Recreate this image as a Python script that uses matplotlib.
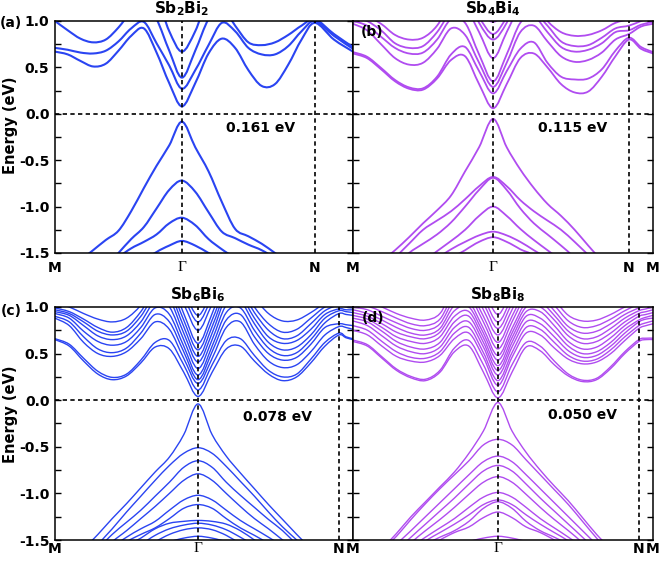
import numpy as np
import matplotlib
matplotlib.use("Agg")
import matplotlib.pyplot as plt
from matplotlib.ticker import MultipleLocator
from matplotlib.path import Path
from matplotlib.patches import PathPatch

plt.rcParams["font.family"] = "DejaVu Sans"
plt.rcParams["font.weight"] = "bold"
plt.rcParams["axes.unicode_minus"] = False

# off-scale placeholders (band runs outside the -1.5..1.0 window)
hi = 1.3
lo = -1.9

# positions of Gamma and N along each path (fraction of panel width)
kpath_a = (0.426, 0.872)
kpath_b = (0.467, 0.920)
kpath_c = (0.480, 0.953)
kpath_d = (0.483, 0.953)

# energies (eV) sampled on 10 steps M->G, 10 steps G->N, 2 steps N->M
a_cond = [
    [0.67, 0.64, 0.57, 0.51, 0.54, 0.68, 0.84, 0.92, 0.66, 0.33, 0.08, 0.33, 0.65, 0.81, 0.71, 0.47, 0.30, 0.32, 0.53, 0.80, 0.98, 0.80, 0.67],
    [0.71, 0.69, 0.66, 0.65, 0.68, 0.78, 0.92, 0.99, 0.76, 0.52, 0.27, 0.47, 0.74, 0.98, 0.89, 0.71, 0.64, 0.64, 0.73, 0.89, 1.00, 0.84, 0.70],
    [1.00, 0.90, 0.81, 0.77, 0.80, 0.93, 1.10, 1.20, 1.02, 0.68, 0.39, 0.68, 1.02, 1.15, 0.95, 0.77, 0.74, 0.77, 0.85, 0.95, 1.02, 0.86, 0.72],
    [hi, hi, hi, hi, hi, hi, hi, hi, 1.25, 0.89, 0.67, 0.89, 1.25, hi, hi, hi, hi, hi, hi, hi, hi, hi, hi],
]
a_val = [
    [-1.80, -1.70, -1.58, -1.47, -1.36, -1.26, -1.05, -0.80, -0.56, -0.34, -0.085, -0.36, -0.62, -0.95, -1.24, -1.32, -1.40, -1.50, -1.60, -1.70, -1.80, -1.80, -1.80],
    [lo, lo, lo, -1.80, -1.65, -1.50, -1.35, -1.22, -1.02, -0.82, -0.72, -0.84, -1.06, -1.27, -1.34, -1.41, -1.47, -1.56, -1.70, -1.80, lo, lo, lo],
    [lo, lo, lo, lo, -1.70, -1.55, -1.45, -1.38, -1.30, -1.18, -1.12, -1.20, -1.35, -1.46, -1.56, -1.70, lo, lo, lo, lo, lo, lo, lo],
    [lo, lo, lo, lo, lo, lo, lo, -1.60, -1.49, -1.42, -1.37, -1.42, -1.50, -1.58, lo, lo, lo, lo, lo, lo, lo, lo, lo],
]

b_cond = [
    [0.65, 0.60, 0.48, 0.35, 0.27, 0.26, 0.38, 0.58, 0.62, 0.32, 0.06, 0.32, 0.60, 0.65, 0.50, 0.32, 0.23, 0.24, 0.40, 0.62, 0.80, 0.70, 0.65],
    [0.665, 0.615, 0.495, 0.365, 0.285, 0.275, 0.40, 0.64, 0.72, 0.46, 0.22, 0.46, 0.70, 0.77, 0.55, 0.40, 0.37, 0.38, 0.48, 0.68, 0.82, 0.72, 0.665],
    [0.97, 0.90, 0.75, 0.60, 0.53, 0.55, 0.70, 0.92, 0.85, 0.55, 0.29, 0.55, 0.88, 0.95, 0.78, 0.62, 0.56, 0.58, 0.66, 0.80, 0.86, 0.94, 0.97],
    [1.00, 0.95, 0.83, 0.71, 0.65, 0.66, 0.80, 1.02, 0.98, 0.64, 0.35, 0.64, 0.98, 1.05, 0.88, 0.72, 0.67, 0.69, 0.76, 0.88, 0.90, 0.96, 0.99],
    [1.05, 1.00, 0.90, 0.76, 0.71, 0.73, 0.88, 1.10, 1.15, 0.88, 0.60, 0.88, 1.15, 1.10, 0.95, 0.78, 0.73, 0.74, 0.82, 0.92, 0.95, 1.00, 1.05],
    [1.10, 1.05, 0.97, 0.85, 0.80, 0.82, 0.95, 1.20, 1.30, 0.98, 0.80, 0.98, 1.30, 1.20, 1.00, 0.88, 0.84, 0.85, 0.90, 0.98, 1.02, 1.05, 1.10],
    [hi, hi, hi, hi, hi, hi, hi, hi, hi, 1.04, 0.86, 1.04, hi, hi, hi, hi, hi, hi, hi, hi, hi, hi, hi],
    [hi, hi, hi, hi, hi, hi, hi, hi, hi, 1.12, 0.99, 1.12, hi, hi, hi, hi, hi, hi, hi, hi, hi, hi, hi],
]
b_val = [
    [lo, -1.80, -1.60, -1.47, -1.33, -1.18, -1.04, -0.88, -0.62, -0.36, -0.055, -0.36, -0.60, -0.80, -0.97, -1.10, -1.25, -1.42, -1.58, -1.70, -1.80, lo, lo],
    [lo, -1.80, -1.70, -1.55, -1.40, -1.25, -1.15, -1.05, -0.92, -0.78, -0.68, -0.78, -0.93, -1.05, -1.15, -1.25, -1.38, -1.52, -1.65, -1.80, lo, lo, lo],
    [lo, lo, -1.80, -1.65, -1.50, -1.40, -1.30, -1.17, -1.00, -0.82, -0.69, -0.82, -1.02, -1.18, -1.30, -1.42, -1.55, -1.70, -1.80, lo, lo, lo, lo],
    [lo, lo, lo, lo, -1.75, -1.60, -1.48, -1.37, -1.25, -1.10, -1.00, -1.10, -1.24, -1.36, -1.47, -1.58, -1.70, lo, lo, lo, lo, lo, lo],
    [lo, lo, lo, lo, lo, -1.68, -1.56, -1.46, -1.38, -1.31, -1.27, -1.31, -1.38, -1.47, -1.56, -1.66, lo, lo, lo, lo, lo, lo, lo],
    [lo, lo, lo, lo, lo, lo, lo, -1.58, -1.47, -1.38, -1.33, -1.38, -1.46, -1.55, lo, lo, lo, lo, lo, lo, lo, lo, lo],
]

c_cond = [
    [0.65, 0.58, 0.42, 0.28, 0.22, 0.26, 0.40, 0.57, 0.55, 0.30, 0.04, 0.30, 0.55, 0.58, 0.42, 0.28, 0.21, 0.25, 0.40, 0.58, 0.70, 0.67, 0.65],
    [0.66, 0.60, 0.45, 0.31, 0.245, 0.28, 0.43, 0.62, 0.64, 0.38, 0.11, 0.38, 0.64, 0.66, 0.48, 0.32, 0.25, 0.28, 0.44, 0.62, 0.72, 0.68, 0.66],
    [0.88, 0.80, 0.62, 0.50, 0.47, 0.52, 0.66, 0.84, 0.76, 0.45, 0.18, 0.45, 0.78, 0.84, 0.60, 0.42, 0.35, 0.38, 0.52, 0.70, 0.79, 0.78, 0.76],
    [0.90, 0.84, 0.68, 0.55, 0.51, 0.56, 0.72, 0.92, 0.84, 0.52, 0.22, 0.52, 0.86, 0.92, 0.68, 0.50, 0.43, 0.46, 0.60, 0.78, 0.82, 0.81, 0.80],
    [0.93, 0.88, 0.74, 0.63, 0.59, 0.63, 0.78, 0.99, 0.92, 0.58, 0.27, 0.58, 0.94, 0.99, 0.75, 0.56, 0.48, 0.51, 0.65, 0.83, 0.93, 0.92, 0.91],
    [0.95, 0.91, 0.80, 0.69, 0.65, 0.69, 0.84, 1.06, 1.00, 0.65, 0.34, 0.65, 1.02, 1.06, 0.82, 0.62, 0.54, 0.57, 0.70, 0.88, 0.96, 0.95, 0.94],
    [0.97, 0.93, 0.84, 0.74, 0.70, 0.74, 0.90, 1.12, 1.08, 0.72, 0.41, 0.72, 1.10, 1.12, 0.88, 0.68, 0.61, 0.64, 0.76, 0.92, 0.98, 0.97, 0.97],
    [0.99, 0.95, 0.87, 0.78, 0.73, 0.78, 0.95, 1.18, 1.15, 0.79, 0.47, 0.79, 1.16, 1.18, 0.94, 0.75, 0.66, 0.69, 0.82, 0.96, 1.02, 1.00, 0.99],
    [1.05, 1.00, 0.93, 0.87, 0.84, 0.88, 1.02, 1.25, 1.22, 0.86, 0.54, 0.86, 1.22, 1.25, 1.00, 0.82, 0.73, 0.76, 0.88, 1.00, 1.05, 1.05, 1.05],
    [hi, hi, hi, hi, hi, hi, hi, hi, hi, 0.93, 0.61, 0.93, hi, hi, 1.10, 0.93, 0.85, 0.86, 0.94, 1.04, 1.10, 1.10, 1.10],
    [hi, hi, hi, hi, hi, hi, hi, hi, hi, 1.03, 0.75, 1.03, hi, hi, hi, hi, hi, hi, hi, hi, hi, hi, hi],
    [hi, hi, hi, hi, hi, hi, hi, hi, hi, 1.10, 0.84, 1.10, hi, hi, hi, hi, hi, hi, hi, hi, hi, hi, hi],
    [hi, hi, hi, hi, hi, hi, hi, hi, hi, 1.16, 0.91, 1.16, hi, hi, hi, hi, hi, hi, hi, hi, hi, hi, hi],
]
c_val = [
    [lo, -1.80, -1.60, -1.44, -1.27, -1.11, -0.94, -0.77, -0.61, -0.37, -0.04, -0.37, -0.60, -0.78, -0.95, -1.12, -1.28, -1.44, -1.60, -1.80, lo, lo, lo],
    [lo, lo, -1.75, -1.55, -1.38, -1.20, -1.03, -0.86, -0.70, -0.57, -0.51, -0.57, -0.71, -0.87, -1.03, -1.20, -1.36, -1.50, -1.65, -1.80, lo, lo, lo],
    [lo, lo, -1.80, -1.60, -1.44, -1.31, -1.18, -1.03, -0.88, -0.72, -0.65, -0.72, -0.88, -1.02, -1.15, -1.28, -1.40, -1.55, -1.70, lo, lo, lo, lo],
    [lo, lo, lo, -1.68, -1.52, -1.40, -1.27, -1.14, -1.00, -0.86, -0.79, -0.86, -1.00, -1.14, -1.27, -1.38, -1.50, -1.62, -1.80, lo, lo, lo, lo],
    [lo, lo, lo, -1.75, -1.58, -1.47, -1.38, -1.30, -1.18, -1.07, -1.02, -1.07, -1.18, -1.29, -1.38, -1.47, -1.57, -1.70, lo, lo, lo, lo, lo],
    [lo, lo, lo, lo, -1.64, -1.52, -1.44, -1.37, -1.27, -1.16, -1.12, -1.16, -1.27, -1.37, -1.45, -1.54, -1.65, lo, lo, lo, lo, lo, lo],
    [lo, lo, lo, lo, lo, -1.58, -1.48, -1.38, -1.32, -1.30, -1.29, -1.30, -1.33, -1.40, -1.50, -1.60, lo, lo, lo, lo, lo, lo, lo],
    [lo, lo, lo, lo, lo, -1.66, -1.55, -1.45, -1.38, -1.34, -1.32, -1.34, -1.39, -1.47, -1.56, -1.66, lo, lo, lo, lo, lo, lo, lo],
    [lo, lo, lo, lo, lo, lo, -1.62, -1.52, -1.44, -1.39, -1.37, -1.39, -1.45, -1.54, -1.63, lo, lo, lo, lo, lo, lo, lo, lo],
    [lo, lo, lo, lo, lo, lo, lo, -1.58, -1.52, -1.48, -1.46, -1.48, -1.52, -1.58, lo, lo, lo, lo, lo, lo, lo, lo, lo],
]

d_cond = [
    [0.63, 0.58, 0.45, 0.32, 0.24, 0.21, 0.30, 0.52, 0.58, 0.30, 0.025, 0.30, 0.57, 0.53, 0.38, 0.26, 0.20, 0.22, 0.34, 0.50, 0.63, 0.65, 0.65],
    [0.645, 0.595, 0.465, 0.335, 0.255, 0.225, 0.32, 0.56, 0.64, 0.38, 0.09, 0.38, 0.62, 0.58, 0.42, 0.28, 0.215, 0.235, 0.36, 0.52, 0.65, 0.665, 0.665],
    [0.75, 0.70, 0.58, 0.47, 0.42, 0.41, 0.48, 0.66, 0.72, 0.46, 0.16, 0.46, 0.72, 0.70, 0.56, 0.44, 0.39, 0.41, 0.50, 0.64, 0.77, 0.80, 0.82],
    [0.80, 0.75, 0.63, 0.52, 0.46, 0.45, 0.52, 0.72, 0.78, 0.51, 0.21, 0.51, 0.78, 0.76, 0.62, 0.48, 0.42, 0.44, 0.54, 0.68, 0.80, 0.83, 0.85],
    [0.85, 0.80, 0.69, 0.58, 0.52, 0.50, 0.57, 0.78, 0.84, 0.57, 0.27, 0.57, 0.84, 0.82, 0.68, 0.53, 0.46, 0.48, 0.58, 0.72, 0.84, 0.87, 0.88],
    [0.88, 0.84, 0.74, 0.63, 0.57, 0.55, 0.62, 0.84, 0.90, 0.62, 0.32, 0.62, 0.90, 0.88, 0.74, 0.58, 0.50, 0.52, 0.62, 0.76, 0.86, 0.89, 0.91],
    [0.91, 0.87, 0.78, 0.68, 0.63, 0.61, 0.68, 0.90, 0.95, 0.67, 0.37, 0.67, 0.95, 0.95, 0.80, 0.63, 0.55, 0.57, 0.67, 0.80, 0.90, 0.92, 0.94],
    [0.94, 0.90, 0.82, 0.73, 0.68, 0.66, 0.73, 0.96, 1.00, 0.72, 0.43, 0.72, 1.00, 1.00, 0.86, 0.69, 0.61, 0.63, 0.72, 0.84, 0.93, 0.95, 0.97],
    [0.97, 0.93, 0.86, 0.78, 0.72, 0.70, 0.77, 1.02, 1.05, 0.77, 0.48, 0.77, 1.05, 1.06, 0.91, 0.74, 0.66, 0.68, 0.77, 0.88, 0.96, 0.98, 1.00],
    [1.00, 0.97, 0.90, 0.83, 0.77, 0.75, 0.82, 1.08, 1.12, 0.84, 0.55, 0.84, 1.12, 1.12, 0.96, 0.79, 0.72, 0.74, 0.82, 0.92, 0.99, 1.01, 1.03],
    [1.05, 1.01, 0.95, 0.88, 0.82, 0.80, 0.87, 1.14, 1.18, 0.90, 0.62, 0.90, 1.18, 1.18, 1.02, 0.85, 0.78, 0.80, 0.87, 0.96, 1.03, 1.05, 1.07],
    [1.10, 1.06, 1.00, 0.93, 0.88, 0.86, 0.93, 1.20, 1.25, 0.97, 0.70, 0.97, 1.25, 1.25, 1.08, 0.91, 0.85, 0.86, 0.92, 1.00, 1.06, 1.08, 1.10],
    [hi, hi, hi, hi, hi, hi, hi, hi, hi, 1.04, 0.77, 1.04, hi, hi, hi, hi, hi, hi, hi, hi, hi, hi, hi],
    [hi, hi, hi, hi, hi, hi, hi, hi, hi, 1.10, 0.84, 1.10, hi, hi, hi, hi, hi, hi, hi, hi, hi, hi, hi],
    [hi, hi, hi, hi, hi, hi, hi, hi, hi, 1.18, 0.92, 1.18, hi, hi, hi, hi, hi, hi, hi, hi, hi, hi, hi],
]
d_val = [
    [lo, -1.80, -1.60, -1.43, -1.25, -1.09, -0.93, -0.77, -0.57, -0.33, -0.025, -0.33, -0.56, -0.75, -0.92, -1.08, -1.26, -1.44, -1.60, -1.80, lo, lo, lo],
    [lo, lo, -1.62, -1.46, -1.28, -1.11, -0.95, -0.80, -0.65, -0.48, -0.42, -0.48, -0.64, -0.80, -0.96, -1.12, -1.30, -1.48, -1.65, -1.80, lo, lo, lo],
    [lo, lo, -1.75, -1.55, -1.40, -1.25, -1.10, -0.95, -0.80, -0.66, -0.60, -0.66, -0.80, -0.95, -1.10, -1.25, -1.40, -1.55, -1.70, lo, lo, lo, lo],
    [lo, lo, -1.85, -1.62, -1.47, -1.33, -1.19, -1.05, -0.90, -0.76, -0.70, -0.76, -0.90, -1.05, -1.19, -1.33, -1.47, -1.62, -1.80, lo, lo, lo, lo],
    [lo, lo, lo, -1.68, -1.53, -1.40, -1.28, -1.15, -1.01, -0.88, -0.82, -0.88, -1.01, -1.15, -1.28, -1.40, -1.53, -1.68, -1.85, lo, lo, lo, lo],
    [lo, lo, lo, -1.72, -1.58, -1.47, -1.37, -1.27, -1.15, -1.04, -0.99, -1.04, -1.15, -1.27, -1.37, -1.47, -1.58, -1.72, lo, lo, lo, lo, lo],
    [lo, lo, lo, lo, -1.62, -1.51, -1.42, -1.33, -1.23, -1.12, -1.07, -1.12, -1.23, -1.33, -1.42, -1.51, -1.62, lo, lo, lo, lo, lo, lo],
    [lo, lo, lo, lo, -1.66, -1.55, -1.47, -1.40, -1.30, -1.16, -1.09, -1.16, -1.30, -1.40, -1.47, -1.55, -1.66, lo, lo, lo, lo, lo, lo],
    [lo, lo, lo, lo, -1.70, -1.60, -1.50, -1.42, -1.36, -1.26, -1.20, -1.26, -1.36, -1.42, -1.50, -1.60, -1.70, lo, lo, lo, lo, lo, lo],
    [lo, lo, lo, lo, lo, lo, lo, -1.60, -1.52, -1.48, -1.46, -1.48, -1.52, -1.60, lo, lo, lo, lo, lo, lo, lo, lo, lo],
]

titles = [r"Sb$_\mathbf{2}$Bi$_\mathbf{2}$", r"Sb$_\mathbf{4}$Bi$_\mathbf{4}$",
          r"Sb$_\mathbf{6}$Bi$_\mathbf{6}$", r"Sb$_\mathbf{8}$Bi$_\mathbf{8}$"]
gaps = ["0.161 eV", "0.115 eV", "0.078 eV", "0.050 eV"]

blue = "#2a44f2"
purple = "#b04cf0"


def kgrid(g, n):
    return np.concatenate([np.linspace(0, g, 11), np.linspace(g, n, 11)[1:],
                           np.linspace(n, 1, 3)[1:]])


def band_path(x, y):
    # smooth Bezier rendering that passes through every sampled point
    p = np.column_stack([x, y])
    n = len(p)
    verts, codes = [p[0]], [Path.MOVETO]
    for i in range(n - 1):
        p0 = p[i - 1] if i > 0 else p[i]
        p3 = p[i + 2] if i + 2 < n else p[i + 1]
        verts += [p[i] + (p[i + 1] - p0) / 6, p[i + 1] - (p3 - p[i]) / 6, p[i + 1]]
        codes += [Path.CURVE4] * 3
    return Path(verts, codes)


W, H = 661, 561
fig = plt.figure(figsize=(W / 100, H / 100), dpi=100)


def add_ax(x, top, w, h):
    return fig.add_axes([x / W, 1 - (top + h) / H, w / W, h / H])


panels = [
    (add_ax(55, 21, 298, 232), kpath_a, a_cond, a_val, blue, 1.5, (0.69, -0.15), True, False, 6),
    (add_ax(353, 21, 300, 232), kpath_b, b_cond, b_val, purple, 1.3, (0.733, -0.15), False, True, 6),
    (add_ax(55, 307, 298, 233), kpath_c, c_cond, c_val, blue, 1.0, (0.748, -0.18), True, False, 1.5),
    (add_ax(353, 307, 300, 233), kpath_d, d_cond, d_val, purple, 1.0, (0.765, -0.16), False, True, 1.5),
]

dash = (0, (2.6, 2.0))
for i, (ax, kp, cond, val, col, lw, gpos, left, last_m, xpad) in enumerate(panels):
    k = kgrid(*kp)
    for band in cond + val:
        ax.add_patch(PathPatch(band_path(k, band), fill=False, edgecolor=col,
                               lw=lw, zorder=2, capstyle="round", joinstyle="round"))
    ax.axhline(0, color="k", ls=dash, lw=1.2, zorder=3)
    for xv in kp:
        ax.axvline(xv, color="k", ls=dash, lw=1.2, zorder=3)
    ax.set_xlim(0, 1)
    ax.set_ylim(-1.5, 1.0)
    ax.yaxis.set_major_locator(MultipleLocator(0.5))
    ax.yaxis.set_minor_locator(MultipleLocator(0.25))
    ax.tick_params(axis="y", which="both", direction="in", left=True, right=True,
                   length=4, width=1, labelleft=left, labelsize=10, pad=4)
    if left:
        ax.set_yticklabels(["%.1f" % v for v in ax.get_yticks()], fontweight="bold")
    ticks = [0, kp[0], kp[1]] + ([1] if last_m else [])
    names = ["M", "\u0393", "N"] + (["M"] if last_m else [])
    ax.set_xticks(ticks)
    ax.set_xticklabels(names, fontsize=10, fontweight="bold")
    ax.tick_params(axis="x", length=0, pad=xpad)
    for lbl in ax.get_xticklabels():
        if lbl.get_text() == "\u0393":
            lbl.set_fontfamily("Liberation Serif")
            lbl.set_fontweight("normal")
            lbl.set_fontsize(11)
    for sp in ax.spines.values():
        sp.set_linewidth(1.1)
    ax.text(kp[0], 1.012, titles[i], transform=ax.get_xaxis_transform(),
            ha="center", va="bottom", fontsize=11, fontweight="bold")
    ax.text(gpos[0], gpos[1], gaps[i], ha="center", va="center",
            fontsize=10, fontweight="bold", zorder=4)

fig.text(11 / W, 1 - 125 / H, "Energy (eV)", rotation=90, ha="center", va="center",
         fontsize=10.5, fontweight="bold")
fig.text(11 / W, 1 - 414 / H, "Energy (eV)", rotation=90, ha="center", va="center",
         fontsize=10.5, fontweight="bold")

for lab, (px, py) in zip(["(a)", "(b)", "(c)", "(d)"],
                         [(11, 23), (372, 32), (11, 311), (373, 318)]):
    fig.text(px / W, 1 - py / H, lab, ha="center", va="center",
             fontsize=10, fontweight="bold", zorder=10)

fig.savefig("out.png", dpi=100)
